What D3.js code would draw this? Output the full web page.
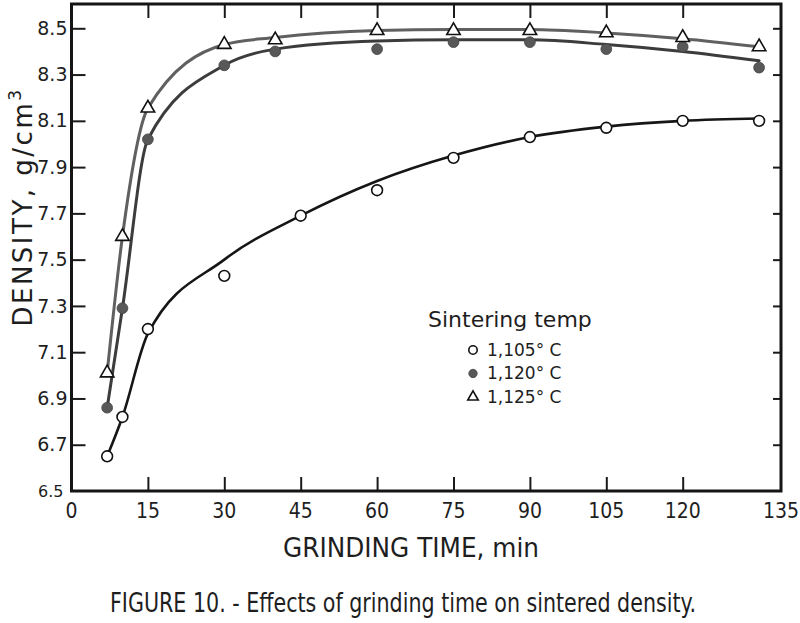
<!DOCTYPE html>
<html>
<head>
<meta charset="utf-8">
<script src="https://cdn.jsdelivr.net/npm/d3@7/dist/d3.min.js"></script>
<style>
  body { margin: 0; background: #fff; }
  svg { display: block; }
  text { fill: #1e1e1e; }
</style>
</head>
<body>
<svg id="chart" width="800" height="623"></svg>
<script>
//
// Data
//

// grinding time, min
const time105 = [7, 10, 15, 30, 45, 60, 75, 90, 105, 120, 135]
const time120 = [7, 10, 15, 30, 40, 60, 75, 90, 105, 120, 135]
const time125 = [7, 10, 15, 30, 40, 60, 75, 90, 105, 120, 135]
// sintered density, g/cm3 (plotted points)
const dens105 = [6.65, 6.82, 7.2, 7.43, 7.69, 7.8, 7.94, 8.03, 8.07, 8.1, 8.1]
const dens120 = [6.86, 7.29, 8.02, 8.34, 8.4, 8.41, 8.44, 8.44, 8.41, 8.42, 8.33]
const dens125 = [7.01, 7.6, 8.155, 8.43, 8.45, 8.49, 8.49, 8.49, 8.48, 8.46, 8.42]
// hand-drawn smooth curves, read at the same times
const fit105 = [6.65, 6.82, 7.18, 7.5, 7.69, 7.84, 7.95, 8.03, 8.075, 8.1, 8.11]
const fit120 = [6.86, 7.29, 8.02, 8.34, 8.41, 8.445, 8.45, 8.45, 8.43, 8.4, 8.36]
const fit125 = [7.01, 7.6, 8.155, 8.43, 8.46, 8.49, 8.495, 8.495, 8.48, 8.455, 8.42]

const seriesNames = ['1,105° C', '1,120° C', '1,125° C']
const xTicks = [0, 15, 30, 45, 60, 75, 90, 105, 120]
const xEndLabel = 135
const yTicks = [6.7, 6.9, 7.1, 7.3, 7.5, 7.7, 7.9, 8.1, 8.3, 8.5]
const yBottomLabel = 6.5

//
// Setup
//

const svg = d3.select('#chart')
const frameLeft = 71.5, frameRight = 781, frameTop = 4, frameBottom = 491
// the printed frame runs a little past the 135 min mark
const x = d3.scaleLinear().domain([0, 139.3]).range([frameLeft, frameRight])
const y = d3.scaleLinear().domain([6.5, 8.605]).range([frameBottom, frameTop])

const tickFont = "'DejaVu Sans', sans-serif"
const narrowFont = "'DejaVu Sans Condensed', 'Liberation Sans Narrow', sans-serif"

const series = [
  { name: seriesNames[0], time: time105, dens: dens105, fit: fit105, line: '#161616', width: 2.6, mark: 'open' },
  { name: seriesNames[1], time: time120, dens: dens120, fit: fit120, line: '#3c3c3c', width: 3, mark: 'filled' },
  { name: seriesNames[2], time: time125, dens: dens125, fit: fit125, line: '#606060', width: 3, mark: 'triangle' },
]

//
// Axes
//

function inward(g) {
  g.select('.domain').remove()
  g.selectAll('.tick line').attr('stroke', '#1a1a1a').attr('stroke-width', 2)
}

svg.append('g')
  .attr('transform', `translate(0,${frameBottom})`)
  .call(d3.axisBottom(x).tickValues(xTicks.slice(1)).tickSize(-14).tickFormat(''))
  .call(inward)

svg.append('g')
  .attr('transform', `translate(0,${frameTop})`)
  .call(d3.axisTop(x).tickValues(xTicks.slice(1)).tickSize(-14).tickFormat(''))
  .call(inward)

svg.append('g')
  .attr('transform', `translate(${frameRight},0)`)
  .call(d3.axisRight(y).tickValues(yTicks).tickSize(-8).tickFormat(''))
  .call(inward)

svg.append('g')
  .attr('transform', `translate(${frameLeft},0)`)
  .call(d3.axisLeft(y).tickValues(yTicks).tickSize(-14).tickPadding(4).tickFormat(d3.format('.1f')))
  .call(inward)
  .call(g => g.selectAll('.tick text')
    .attr('font-family', tickFont).attr('font-size', 19).attr('fill', '#1e1e1e'))

svg.append('text')
  .attr('x', frameLeft - 8).attr('y', y(yBottomLabel))
  .attr('dy', '0.35em')
  .attr('text-anchor', 'end')
  .attr('font-family', tickFont).attr('font-size', 16)
  .text(d3.format('.1f')(yBottomLabel))

// x labels: 0..120 on the scale, the last one printed at the frame corner
svg.append('g')
  .selectAll('text')
  .data(xTicks.concat([xEndLabel]))
  .join('text')
  .attr('x', d => (d === xEndLabel ? frameRight : x(d)))
  .attr('y', 511)
  .attr('dy', '0.35em')
  .attr('text-anchor', 'middle')
  .attr('font-family', narrowFont).attr('font-size', 21)
  .text(d => d)

// frame
svg.append('rect')
  .attr('x', frameLeft).attr('y', frameTop)
  .attr('width', frameRight - frameLeft).attr('height', frameBottom - frameTop)
  .attr('fill', 'none').attr('stroke', '#151515').attr('stroke-width', 3)

//
// Series
//

const line = d3.line()
  .x(d => x(d[0]))
  .y(d => y(d[1]))
  .curve(d3.curveMonotoneX)

function drawMark(g, kind, r) {
  if (kind === 'triangle') {
    g.append('path')
      .attr('d', d3.symbol(d3.symbolTriangle, r * r * 2.7)())
      .attr('fill', '#fff').attr('stroke', '#111').attr('stroke-width', 1.6)
  } else {
    g.append('circle')
      .attr('r', r)
      .attr('fill', kind === 'open' ? '#fff' : '#585858')
      .attr('stroke', kind === 'open' ? '#111' : '#444')
      .attr('stroke-width', kind === 'open' ? 1.6 : 0.8)
  }
}

series.forEach(s => {
  svg.append('path')
    .datum(d3.zip(s.time, s.fit))
    .attr('d', line)
    .attr('fill', 'none')
    .attr('stroke', s.line)
    .attr('stroke-width', s.width)
    .attr('stroke-linecap', 'round')
})

series.forEach(s => {
  svg.append('g')
    .selectAll('g')
    .data(d3.zip(s.time, s.dens))
    .join('g')
    .attr('transform', d => `translate(${x(d[0])},${y(d[1])})`)
    .each(function () { drawMark(d3.select(this), s.mark, 5.4) })
})

//
// Legend
//

svg.append('text')
  .attr('x', 428).attr('y', 319)
  .attr('dy', '0.35em')
  .attr('font-family', tickFont).attr('font-size', 22)
  .text('Sintering temp')

const legend = svg.append('g')
  .selectAll('g')
  .data(series)
  .join('g')
  .attr('transform', (d, i) => `translate(473,${350 + i * 23.5})`)

legend.each(function (d) { drawMark(d3.select(this), d.mark, 4.2) })

legend.append('text')
  .attr('x', 14)
  .attr('dy', '0.35em')
  .attr('font-family', tickFont).attr('font-size', 17)
  .text(d => d.name)

//
// Titles
//

svg.append('text')
  .attr('x', 411).attr('y', 548)
  .attr('dy', '0.35em')
  .attr('text-anchor', 'middle')
  .attr('font-family', narrowFont).attr('font-size', 27)
  .attr('textLength', 256).attr('lengthAdjust', 'spacingAndGlyphs')
  .text('GRINDING TIME, min')

const yTitle = svg.append('text')
  .attr('transform', 'translate(32,207) rotate(-90)')
  .attr('text-anchor', 'middle')
  .attr('font-family', tickFont).attr('font-size', 26)
  .attr('letter-spacing', 2.5)
yTitle.append('tspan').text('DENSITY, g/cm')
yTitle.append('tspan').attr('font-size', 17).attr('dy', -11).text('3')

svg.append('text')
  .attr('x', 403).attr('y', 603)
  .attr('dy', '0.35em')
  .attr('text-anchor', 'middle')
  .attr('font-family', narrowFont).attr('font-size', 26)
  .attr('textLength', 586).attr('lengthAdjust', 'spacingAndGlyphs')
  .text('FIGURE 10. - Effects of grinding time on sintered density.')
</script>
</body>
</html>
